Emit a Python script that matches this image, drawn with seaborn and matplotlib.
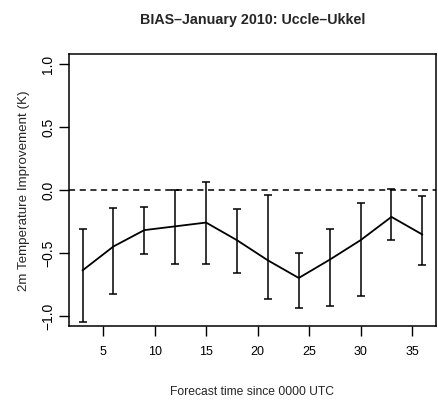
import matplotlib
matplotlib.use("Agg")
import matplotlib.pyplot as plt
import seaborn as sns
import pandas as pd

# Daten
stunden = [3, 6, 9, 12, 15, 18, 21, 24, 27, 30, 33, 36]
bias = [-0.64, -0.45, -0.32, -0.29, -0.26, -0.40, -0.56, -0.70, -0.555, -0.40, -0.215, -0.355]
oben = [-0.31, -0.145, -0.14, 0.0, 0.06, -0.15, -0.04, -0.50, -0.31, -0.105, 0.01, -0.05]
unten = [-1.05, -0.825, -0.51, -0.59, -0.59, -0.66, -0.865, -0.94, -0.925, -0.84, -0.395, -0.60]
xticks = [5, 10, 15, 20, 25, 30, 35]
yticks = [-1.0, -0.5, 0.0, 0.5, 1.0]

df = pd.DataFrame({"stunde": stunden, "bias": bias, "oben": oben, "unten": unten})

sns.set_style("ticks")
plt.rcParams["font.family"] = ["Liberation Sans", "DejaVu Sans"]

fig = plt.figure(figsize=(4.39, 4.06), dpi=100)
ax = fig.add_axes([0.157, 0.195, 0.836, 0.67])

# Nulllinie
ax.axhline(0, color="black", linestyle=(0, (4, 3)), linewidth=1.1, zorder=1)

# Linie
sns.lineplot(data=df, x="stunde", y="bias", color="black", linewidth=1.3, ax=ax)

# Fehlerbalken
ax.errorbar(df["stunde"], df["bias"],
            yerr=[df["bias"] - df["unten"], df["oben"] - df["bias"]],
            fmt="none", ecolor="black", elinewidth=1.1, capsize=2.6, capthick=1.1)

ax.set_xlim(1.68, 37.32)
ax.set_ylim(-1.08, 1.08)
ax.set_xticks(xticks)
ax.set_yticks(yticks)
ax.set_yticklabels(["\u22121.0", "\u22120.5", "0.0", "0.5", "1.0"], rotation=90, va="center")
ax.tick_params(axis="both", direction="out", length=7, width=1, labelsize=10, colors="black")
ax.tick_params(axis="x", pad=7, labelsize=9)
ax.tick_params(axis="y", pad=3)

for s in ax.spines.values():
    s.set_visible(True)
    s.set_linewidth(1.1)
    s.set_color("black")

ax.set_title("BIAS\u2013January 2010: Uccle\u2013Ukkel", fontsize=10.3, fontweight="bold", pad=22)
ax.set_xlabel("Forecast time since 0000 UTC", fontsize=8.7, labelpad=20)
ax.set_ylabel("2m Temperature Improvement (K)", fontsize=9.6, labelpad=8)

fig.savefig("out.png", dpi=100)
